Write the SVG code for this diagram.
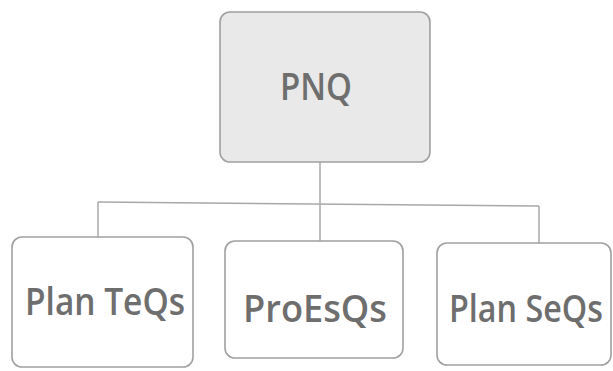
<svg xmlns="http://www.w3.org/2000/svg" width="613" height="371" viewBox="0 0 613 371">
<style>
.box{fill:#ffffff;stroke:#a0a0a0;stroke-width:1.6}
.root{fill:#e9e9e9;stroke:#a0a0a0;stroke-width:1.6}
.lbl{font-family:"Open Sans","Liberation Sans",sans-serif;font-weight:600;font-size:37px;fill:#6e6e6e}
.conn{fill:none;stroke:#a8a8a8;stroke-width:1.5}
</style>
<rect width="613" height="371" fill="#ffffff"/>
<g id="connectors">
<path class="conn" d="M320,162 V204"/>
<path class="conn" d="M98,202 L539,206"/>
<path class="conn" d="M98,202 V237"/>
<path class="conn" d="M320,204 V241"/>
<path class="conn" d="M539,206 V243"/>
</g>
<g id="PNQ">
<rect class="root" x="220" y="12" width="210" height="150" rx="10"/>
<text class="lbl" x="280" y="100" textLength="72" lengthAdjust="spacingAndGlyphs">PNQ</text>
</g>
<g id="PlanTeQs">
<rect class="box" x="12" y="237" width="181" height="130" rx="10"/>
<text class="lbl" x="25" y="315" textLength="160" lengthAdjust="spacingAndGlyphs">Plan TeQs</text>
</g>
<g id="ProEsQs">
<rect class="box" x="225" y="241" width="178" height="117" rx="10"/>
<text class="lbl" x="243" y="322" textLength="144" lengthAdjust="spacingAndGlyphs">ProEsQs</text>
</g>
<g id="PlanSeQs">
<rect class="box" x="437" y="243" width="174" height="122" rx="10"/>
<text class="lbl" style="font-size:34px" transform="translate(449,322) scale(1,1.09)" x="0" y="0" textLength="154" lengthAdjust="spacingAndGlyphs">Plan SeQs</text>
</g>
</svg>
